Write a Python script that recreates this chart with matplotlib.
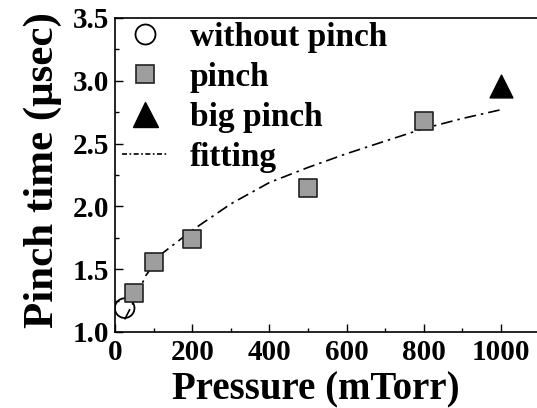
import matplotlib
matplotlib.use("Agg")
import matplotlib.pyplot as plt
from matplotlib.lines import Line2D
from matplotlib.legend_handler import HandlerLine2D
from matplotlib.ticker import MultipleLocator
import numpy as np

# Data
nopinch_x = [25]
nopinch_y = [1.19]
pinch_x = [50, 100, 200, 500, 800]
pinch_y = [1.31, 1.56, 1.74, 2.15, 2.68]
big_x = [1000]
big_y = [2.96]
fit_x = [25, 50, 80, 120, 200, 300, 400, 500, 600, 700, 800, 900, 1000]
fit_y = [1.10, 1.25, 1.45, 1.62, 1.81, 2.02, 2.19, 2.31, 2.42, 2.52, 2.62, 2.70, 2.77]
legend_labels = ["without pinch", "pinch", "big pinch", "fitting"]

plt.rcParams['font.family'] = ['Liberation Serif', 'DejaVu Serif']
plt.rcParams['font.weight'] = 'bold'

W, H = 537, 408
fig = plt.figure(figsize=(W/100, H/100), dpi=100)
ax = fig.add_axes([115/W, 76/H, (539.6-115)/W, 314/H])

ls = (0, (7, 3, 1.5, 3))
ax.plot(fit_x, fit_y, color='black', lw=1.2, linestyle=ls, zorder=2)
ax.scatter(nopinch_x, nopinch_y, s=200, facecolor='none', edgecolor='black', linewidths=1.3, zorder=3)
ax.scatter(pinch_x, pinch_y, s=150, marker='s', facecolor='#9e9e9e', edgecolor='#222222', linewidths=1.2, zorder=3)
ax.scatter(big_x, big_y, s=270, marker='^', facecolor='black', edgecolor='black', zorder=3)

ax.set_xlim(0, 1100)
ax.set_ylim(1.0, 3.5)
ax.xaxis.set_minor_locator(MultipleLocator(100))
ax.yaxis.set_minor_locator(MultipleLocator(0.25))
ax.set_xticks([0, 200, 400, 600, 800, 1000])
ax.set_xticklabels(['0', '200', '400', '600', '800', '1000'])
ax.set_yticks([1.0, 1.5, 2.0, 2.5, 3.0, 3.5])
ax.set_yticklabels(['1.0', '1.5', '2.0', '2.5', '3.0', '3.5'])
ax.tick_params(which='major', direction='in', length=6, width=1, labelsize=21)
ax.tick_params(which='minor', direction='in', length=3, width=1)
ax.tick_params(axis='x', which='major', pad=5)
ax.tick_params(axis='y', which='major', pad=4)
for lab in ax.get_xticklabels() + ax.get_yticklabels():
    lab.set_fontweight('bold')
for sp in ax.spines.values():
    sp.set_linewidth(1.2)

ax.set_xlabel('Pressure (mTorr)', fontsize=28, fontweight='bold', labelpad=4)
ax.set_ylabel('Pinch time (μsec)', fontsize=31, fontweight='bold', labelpad=8)
ax.xaxis.label.set_x(0.473)
ax.yaxis.label.set_y(0.516)


class LeftMarkerHandler(HandlerLine2D):
    def get_xdata(self, legend, xdescent, ydescent, width, height, fontsize):
        xd, xm = super().get_xdata(legend, xdescent, ydescent, width, height, fontsize)
        return xd, np.array([-xdescent + 0.2 * width])


handles = [
    Line2D([], [], marker='o', ls='none', markersize=14.4, markerfacecolor='white', markeredgecolor='black', markeredgewidth=1.3),
    Line2D([], [], marker='s', ls='none', markersize=13, markerfacecolor='#9e9e9e', markeredgecolor='#222222', markeredgewidth=1.2),
    Line2D([], [], marker='^', ls='none', markersize=18, color='black'),
    Line2D([], [], color='black', lw=1.2, linestyle=(0, (3, 1.5, 1, 1.5))),
]
hm = {h: LeftMarkerHandler(numpoints=1) for h in handles[:3]}
leg = ax.legend(handles, legend_labels, loc='upper left', frameon=False,
                bbox_to_anchor=(0.008, 1.0),
                prop={'size': 24, 'weight': 'bold'}, handlelength=1.36,
                handletextpad=0.66, labelspacing=0.27, borderaxespad=0.04,
                borderpad=0.08, handler_map=hm)

fig.savefig('out.png', dpi=100)
